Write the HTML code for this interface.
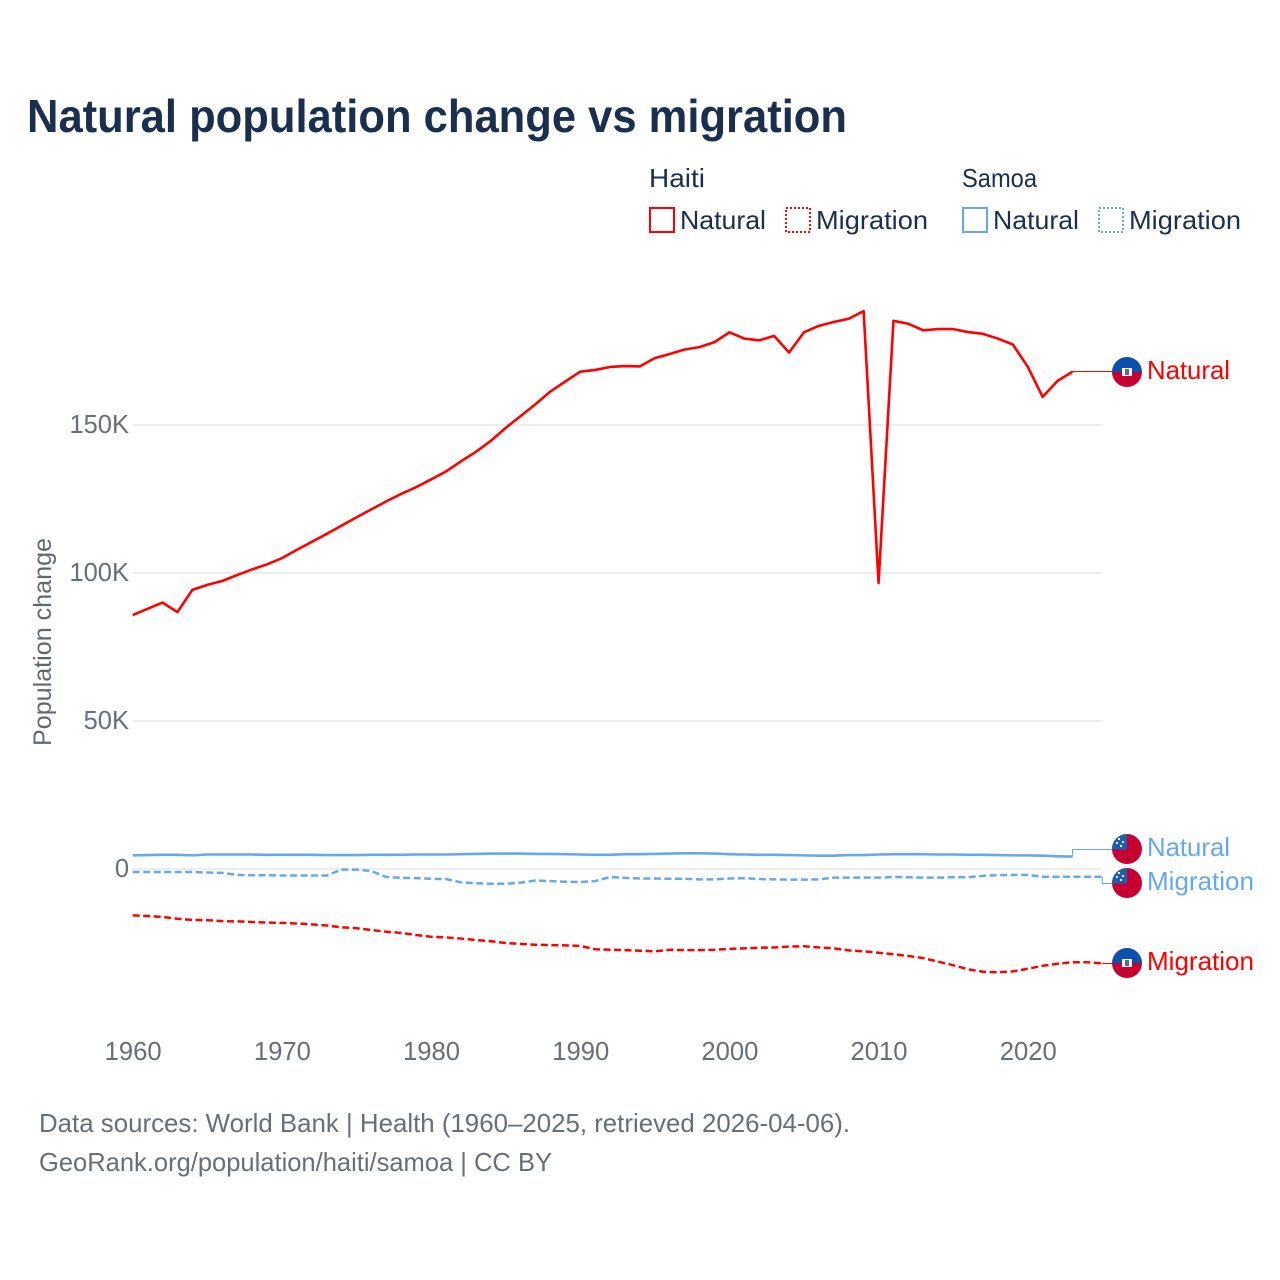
<!DOCTYPE html>
<html lang="en">
<head>
<meta charset="utf-8">
<title>Natural population change vs migration</title>
<style>
html,body{margin:0;padding:0;background:#fff;width:1280px;height:1280px;overflow:hidden}
svg{display:block}
text{font-family:"Liberation Sans",sans-serif}
</style>
</head>
<body>
<svg id="chart" xmlns="http://www.w3.org/2000/svg" width="1280" height="1280" viewBox="0 0 1280 1280">
<defs>
<clipPath id="flag-clip"><circle cx="0" cy="0" r="15"/></clipPath>
<g id="flag-haiti">
<g clip-path="url(#flag-clip)">
<rect x="-15" y="-15" width="30" height="15" fill="#0a50ac"/>
<rect x="-15" y="0" width="30" height="15" fill="#c60030"/>
<rect x="-5" y="-4" width="10" height="8" fill="#f4f4f4"/>
<rect x="-2" y="-3" width="4" height="6" fill="#5a7080"/>
</g>
</g>
<g id="flag-samoa">
<g clip-path="url(#flag-clip)">
<rect x="-15" y="-15" width="30" height="30" fill="#c60030"/>
<rect x="-15" y="-15" width="15" height="15.5" fill="#1c5fb0"/>
<circle cx="-8" cy="-10" r="1.1" fill="#fff"/>
<circle cx="-4" cy="-7" r="1.1" fill="#fff"/>
<circle cx="-10" cy="-6" r="1.1" fill="#fff"/>
<circle cx="-6" cy="-3" r="1.1" fill="#fff"/>
</g>
</g>
</defs>

<text x="27" y="132" font-size="46" font-weight="700" fill="#1a2f4d" textLength="820" lengthAdjust="spacingAndGlyphs">Natural population change vs migration</text>

<g fill="#1a2f4d" font-size="26">
<text x="649" y="187" textLength="56" lengthAdjust="spacingAndGlyphs">Haiti</text>
<text x="962" y="187" textLength="75" lengthAdjust="spacingAndGlyphs">Samoa</text>
<rect x="650" y="208" width="24" height="24" fill="none" stroke="#ff0000" stroke-width="2"/>
<text x="680" y="229" textLength="86" lengthAdjust="spacingAndGlyphs">Natural</text>
<rect x="786" y="208" width="24" height="24" fill="none" stroke="#ff0000" stroke-width="2" stroke-dasharray="2 2"/>
<text x="816" y="229" textLength="112" lengthAdjust="spacingAndGlyphs">Migration</text>
<rect x="963" y="208" width="24" height="24" fill="none" stroke="#66a8ee" stroke-width="2"/>
<text x="993" y="229" textLength="86" lengthAdjust="spacingAndGlyphs">Natural</text>
<rect x="1099" y="208" width="24" height="24" fill="none" stroke="#66a8ee" stroke-width="2" stroke-dasharray="2 2"/>
<text x="1129" y="229" textLength="112" lengthAdjust="spacingAndGlyphs">Migration</text>
</g>

<text transform="translate(51 642) rotate(-90)" text-anchor="middle" font-size="25" fill="#5f6872" textLength="208" lengthAdjust="spacingAndGlyphs">Population change</text>

<g id="grid"></g>
<g id="y-ticks"></g>
<g id="x-ticks"></g>
<g id="connectors"></g>
<g id="series"></g>

<g>
<use href="#flag-haiti" transform="translate(1127 372)"/>
<text x="1147" y="379" font-size="26" fill="#ff0000" textLength="83" lengthAdjust="spacingAndGlyphs">Natural</text>
</g>
<g>
<use href="#flag-samoa" transform="translate(1127 849)"/>
<text x="1147" y="856" font-size="26" fill="#66a8ee" textLength="83" lengthAdjust="spacingAndGlyphs">Natural</text>
</g>
<g>
<use href="#flag-samoa" transform="translate(1127 883)"/>
<text x="1147" y="890" font-size="26" fill="#66a8ee" textLength="107" lengthAdjust="spacingAndGlyphs">Migration</text>
</g>
<g>
<use href="#flag-haiti" transform="translate(1127 963)"/>
<text x="1147" y="970" font-size="26" fill="#ff0000" textLength="107" lengthAdjust="spacingAndGlyphs">Migration</text>
</g>

<g font-size="26" fill="#666f79">
<text x="39" y="1132" textLength="811" lengthAdjust="spacingAndGlyphs">Data sources: World Bank | Health (1960–2025, retrieved 2026-04-06).</text>
<text x="39" y="1171" textLength="513" lengthAdjust="spacingAndGlyphs">GeoRank.org/population/haiti/samoa | CC BY</text>
</g>
</svg>

<script>
var firstYear = 1960;
var lastYear = 2025;
var xTickYears = [1960, 1970, 1980, 1990, 2000, 2010, 2020];
var yTickValues = [0, 50, 100, 150];
var yTickLabels = ["0", "50K", "100K", "150K"];

var haitiNatural = [85.8,87.9,90.0,86.8,94.3,96.0,97.3,99.3,101.2,102.9,105.0,107.8,110.5,113.2,116.0,118.8,121.5,124.2,126.7,129.0,131.6,134.3,137.7,140.9,144.6,149.0,153.0,157.0,161.3,164.7,168.0,168.6,169.6,169.9,169.8,172.6,174.0,175.5,176.3,178.0,181.3,179.2,178.6,180.1,174.5,181.3,183.5,184.8,185.9,188.5,96.6,185.2,184.2,182.0,182.4,182.4,181.4,180.8,179.2,177.2,169.7,159.5,164.9,168.0];
var haitiMigration = [-15.65,-15.9,-16.2,-16.8,-17.2,-17.3,-17.6,-17.7,-17.9,-18.1,-18.2,-18.4,-18.7,-19.1,-19.7,-20.0,-20.6,-21.2,-21.6,-22.3,-22.9,-23.1,-23.5,-24.0,-24.4,-25.0,-25.3,-25.6,-25.7,-25.8,-26.0,-27.1,-27.3,-27.4,-27.6,-27.8,-27.3,-27.4,-27.4,-27.3,-27.0,-26.8,-26.6,-26.5,-26.2,-26.1,-26.5,-26.8,-27.5,-27.8,-28.3,-28.8,-29.4,-30.1,-31.3,-32.5,-33.9,-34.7,-34.9,-34.6,-33.7,-32.7,-32.0,-31.5,-31.5,-31.9];
var samoaNatural = [4.6,4.7,4.8,4.8,4.6,4.9,4.9,4.9,4.9,4.8,4.8,4.8,4.8,4.7,4.7,4.7,4.8,4.8,4.8,4.9,4.9,4.9,5.0,5.1,5.2,5.2,5.2,5.1,5.1,5.0,4.9,4.8,4.8,5.0,5.0,5.1,5.2,5.3,5.3,5.2,5.0,4.9,4.8,4.8,4.7,4.6,4.5,4.5,4.7,4.7,4.9,5.0,5.0,5.0,4.9,4.9,4.8,4.8,4.7,4.6,4.6,4.5,4.3,4.2];
var samoaMigration = [-1.0,-1.0,-1.0,-1.0,-1.0,-1.2,-1.3,-2.0,-2.1,-2.1,-2.2,-2.2,-2.2,-2.2,-0.2,-0.2,-0.7,-2.7,-3.0,-3.1,-3.3,-3.4,-4.5,-4.8,-5.0,-5.0,-4.6,-3.9,-4.1,-4.3,-4.4,-4.1,-2.7,-3.0,-3.2,-3.2,-3.3,-3.3,-3.5,-3.5,-3.2,-3.1,-3.4,-3.5,-3.6,-3.6,-3.5,-2.9,-2.9,-2.9,-2.9,-2.7,-2.8,-2.9,-2.9,-2.8,-2.8,-2.3,-2.1,-2.0,-2.0,-2.6,-2.6,-2.6,-2.6,-2.6];

var SVGNS = "http://www.w3.org/2000/svg";
var RED = "#ff0000";
var BLUE = "#66a8ee";

function xScale(year) {
  return 132.7 + (year - firstYear) * (1102.3 - 132.7) / (lastYear - firstYear);
}
function yScale(value) {
  return 869 - value * 2.96;
}
function linePoints(values) {
  var out = [];
  for (var i = 0; i < values.length; i++) {
    out.push(xScale(firstYear + i).toFixed(2) + "," + yScale(values[i]).toFixed(2));
  }
  return out.join(" ");
}
function make(tag, attrs, parentId) {
  var el = document.createElementNS(SVGNS, tag);
  for (var k in attrs) { el.setAttribute(k, attrs[k]); }
  document.getElementById(parentId).appendChild(el);
  return el;
}

yTickValues.forEach(function (v, i) {
  var line = make("line", {x1: 133, x2: 1102, y1: yScale(v), y2: yScale(v), stroke: "#ededed", "stroke-width": 2}, "grid");
  
  
  var t = make("text", {x: 129, y: yScale(v) + 8, "text-anchor": "end", "font-size": 25.5, fill: "#666f79"}, "y-ticks");
  t.textContent = yTickLabels[i];
  
  
});

xTickYears.forEach(function (year) {
  var t = make("text", {x: xScale(year) + 0.5, y: 1060, "text-anchor": "middle", "font-size": 25.5, fill: "#666f79", textLength: 57, lengthAdjust: "spacingAndGlyphs"}, "x-ticks");
  t.textContent = String(year);
  
  
});

function connector(values, dotY, color) {
  var endX = xScale(firstYear + values.length - 1);
  var endY = yScale(values[values.length - 1]);
  var d = "M" + endX.toFixed(2) + " " + endY.toFixed(2) + "V" + dotY + "H1113";
  var p = make("path", {d: d, fill: "none", stroke: color, "stroke-width": 1}, "connectors");
  
  
}
connector(haitiNatural, 371.5, RED);
connector(samoaNatural, 849.5, BLUE);
connector(samoaMigration, 883.5, BLUE);
connector(haitiMigration, 963.5, RED);

var dash = "7 3.5";
var lineSamoaNatural = make("polyline", {points: linePoints(samoaNatural), fill: "none", stroke: BLUE, "stroke-width": 2.6, "stroke-linejoin": "round"}, "series");


var lineSamoaMigration = make("polyline", {points: linePoints(samoaMigration), fill: "none", stroke: BLUE, "stroke-width": 2.5, "stroke-dasharray": dash, "stroke-linejoin": "round"}, "series");


var lineHaitiMigration = make("polyline", {points: linePoints(haitiMigration), fill: "none", stroke: RED, "stroke-width": 2.5, "stroke-dasharray": dash, "stroke-linejoin": "round"}, "series");


var lineHaitiNatural = make("polyline", {points: linePoints(haitiNatural), fill: "none", stroke: RED, "stroke-width": 2.6, "stroke-linejoin": "round"}, "series");


</script>
</body>
</html>
